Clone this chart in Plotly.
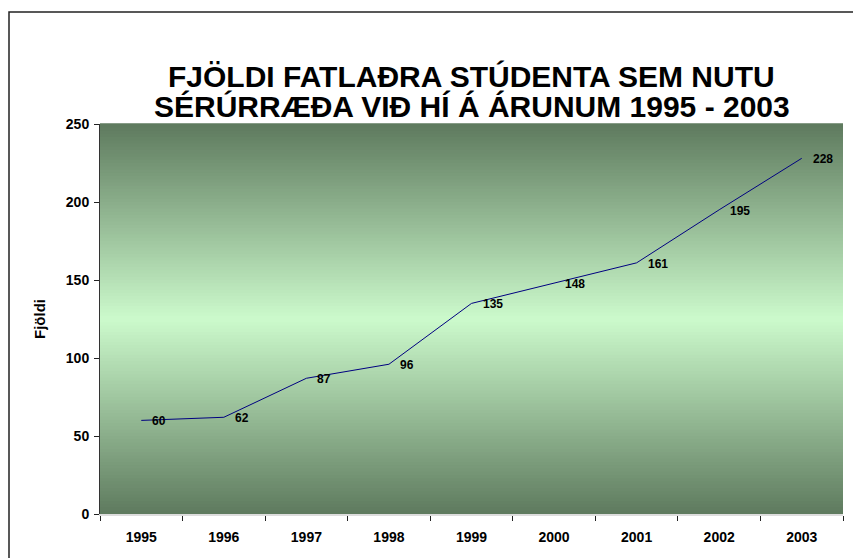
import plotly.graph_objects as go

years = ["1995", "1996", "1997", "1998", "1999", "2000", "2001", "2002", "2003"]
counts = [60, 62, 87, 96, 135, 148, 161, 195, 228]
y_ticks = [0, 50, 100, 150, 200, 250]

title_lines = ["FJÖLDI FATLAÐRA STÚDENTA SEM NUTU",
               "SÉRÚRRÆÐA VIÐ HÍ Á ÁRUNUM 1995 - 2003"]
y_title = "Fjöldi"

FONT = "Liberation Sans, Arial, sans-serif"
PLOT_TOP, PLOT_BOTTOM = 124, 514

fig = go.Figure()
fig.add_trace(go.Scatter(
    x=list(range(len(years))), y=counts, mode="lines",
    line=dict(color="#000080", width=1),
    showlegend=False, hoverinfo="y",
))

annotations = []
for i, v in enumerate(counts):
    annotations.append(dict(x=i, y=v, xref="x", yref="y", text=str(v),
                            showarrow=False, xanchor="left", yanchor="middle",
                            xshift=9, yshift=-1,
                            font=dict(family=FONT, size=12, color="black", weight="bold")))
for line, py in zip(title_lines, [76, 107]):
    annotations.append(dict(x=0.5, y=(PLOT_BOTTOM - py) / (PLOT_BOTTOM - PLOT_TOP),
                            xref="paper", yref="paper", text=line, showarrow=False,
                            xanchor="center", yanchor="middle",
                            font=dict(family=FONT, size=30, color="black", weight="bold")))

# vertical gradient background (dark - light - dark)
top = (94, 122, 94)
mid = (204, 250, 204)
n = 120
shapes = []
for i in range(n):
    f0 = i / n
    f1 = (i + 1) / n
    c = (f0 + f1) / 2
    t = 1 - abs(c - 0.5) * 2
    col = tuple(int(round(top[k] + (mid[k] - top[k]) * t)) for k in range(3))
    shapes.append(dict(type="rect", xref="x domain", yref="y domain",
                       x0=0, x1=1, y0=f0, y1=f1 + 0.002, layer="below",
                       line=dict(width=0), fillcolor="rgb(%d,%d,%d)" % col))
shapes.append(dict(type="rect", xref="paper", yref="paper",
                   x0=(9 - 100) / 743, x1=1.2, y0=-0.3, y1=(514 - 12) / 390,
                   line=dict(color="#222222", width=1.5), layer="above"))

fig.update_layout(
    width=853, height=558,
    margin=dict(l=100, r=10, t=124, b=44),
    paper_bgcolor="white", plot_bgcolor="rgba(0,0,0,0)",
    font=dict(family=FONT, color="black"),
    shapes=shapes, annotations=annotations,
    xaxis=dict(tickmode="array", tickvals=list(range(len(years))), ticktext=years,
               showgrid=False, ticks="", showline=True, linecolor="#dddddd",
               linewidth=1.5, ticklabelstandoff=9,
               tickfont=dict(family=FONT, size=14, weight="bold"),
               zeroline=False, range=[-0.5, len(years) - 0.5],
               minor=dict(tickmode="array",
                          tickvals=[i - 0.5 for i in range(len(years) + 1)],
                          ticks="outside", ticklen=5, tickcolor="#222222",
                          showgrid=False)),
    yaxis=dict(range=[0, 250], tickvals=y_ticks, showgrid=False,
               ticks="outside", ticklen=5, tickcolor="#222222",
               showline=True, linecolor="#333333", linewidth=1,
               tickfont=dict(family=FONT, size=14, weight="bold"),
               zeroline=False, ticklabelstandoff=2,
               title=dict(text=y_title, standoff=16,
                          font=dict(family=FONT, size=15, weight="bold"))),
)

fig.write_html("out.html", config={"displayModeBar": False})
with open("out.html", encoding="utf-8") as f:
    html = f.read()
html = html.replace("<head>", "<head><style>html,body{margin:0;padding:0;overflow:hidden;}</style>", 1)
with open("out.html", "w", encoding="utf-8") as f:
    f.write(html)
